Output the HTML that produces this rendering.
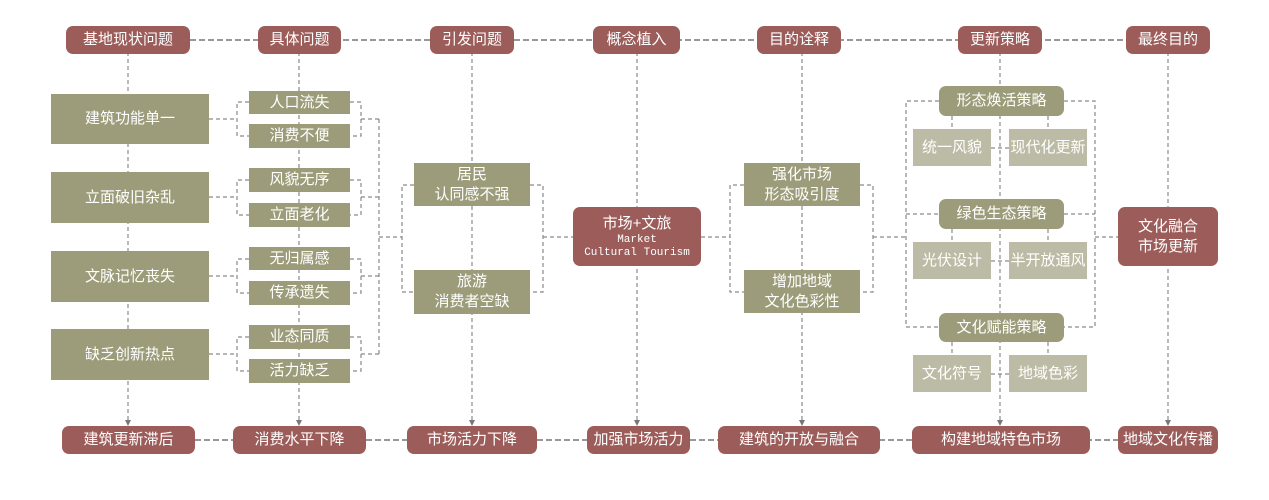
<!DOCTYPE html>
<html><head><meta charset="utf-8"><style>
html,body{margin:0;padding:0;background:#fff;}
#c{position:relative;width:1269px;height:500px;overflow:hidden;font-family:"Liberation Sans","Noto Sans CJK SC",sans-serif;}
.b{position:absolute;display:flex;align-items:center;justify-content:center;text-align:center;color:#fff;font-size:15px;line-height:20px;box-sizing:border-box;}
.r{background:#9c5d5a;border-radius:7px;}
.o{background:#9c9c7a;}
.os{background:#9c9c7a;border-radius:7px;}
.l{background:#bcbca6;}
svg{position:absolute;left:0;top:0;}
</style></head><body><div id="c">
<svg width="1269" height="500"><g stroke="#8a8a8a" stroke-width="1.2" fill="none" stroke-dasharray="4,3">
<line x1="190" y1="40" x2="1126" y2="40" stroke-dasharray="6,3" stroke-width="1.6" stroke="#777"/>
<line x1="195" y1="440" x2="1118" y2="440" stroke-dasharray="6,3" stroke-width="1.6" stroke="#777"/>
<line x1="128" y1="52" x2="128" y2="424"/>
<line x1="299" y1="52" x2="299" y2="424"/>
<line x1="472" y1="52" x2="472" y2="424"/>
<line x1="637" y1="52" x2="637" y2="424"/>
<line x1="802" y1="52" x2="802" y2="424"/>
<line x1="1000" y1="52" x2="1000" y2="424"/>
<line x1="1168" y1="52" x2="1168" y2="424"/>
<path d="M209 119 H237 M249 102 H237 V136 H249"/>
<path d="M209 197 H237 M249 180 H237 V215 H249"/>
<path d="M209 276 H237 M249 259 H237 V293 H249"/>
<path d="M209 354 H237 M249 337 H237 V371 H249"/>
<path d="M350 102 H361 V136 H350 M361 119 H379"/>
<path d="M350 180 H361 V215 H350 M361 197 H379"/>
<path d="M350 259 H361 V293 H350 M361 276 H379"/>
<path d="M350 337 H361 V371 H350 M361 354 H379"/>
<path d="M379 119 V354 M379 237 H402"/>
<path d="M414 185 H402 V292 H414 M530 185 H543 V292 H530 M543 237 H573"/>
<path d="M701 237 H730 M744 185 H730 V292 H744 M860 185 H873 V292 H860 M873 237 H906"/>
<path d="M939 101 H906 V327 H939 M1064 101 H1095 V327 H1064 M906 214 H939 M1064 214 H1095 M1095 237 H1118"/>
<path d="M952 116 V129 M1048 116 V129 M991 148 H1009"/>
<path d="M952 229 V242 M1048 229 V242 M991 261 H1009"/>
<path d="M952 342 V355 M1048 342 V355 M991 374 H1009"/>
</g>
<g fill="#777"><path d="M125 420 L131 420 L128 426Z"/><path d="M296 420 L302 420 L299 426Z"/><path d="M469 420 L475 420 L472 426Z"/><path d="M634 420 L640 420 L637 426Z"/><path d="M799 420 L805 420 L802 426Z"/><path d="M997 420 L1003 420 L1000 426Z"/><path d="M1165 420 L1171 420 L1168 426Z"/></g>
</svg>
<div class="b r" style="left:66px;top:26px;width:124px;height:28px">基地现状问题</div>
<div class="b r" style="left:258px;top:26px;width:83px;height:28px">具体问题</div>
<div class="b r" style="left:430px;top:26px;width:84px;height:28px">引发问题</div>
<div class="b r" style="left:593px;top:26px;width:87px;height:28px">概念植入</div>
<div class="b r" style="left:757px;top:26px;width:84px;height:28px">目的诠释</div>
<div class="b r" style="left:958px;top:26px;width:84px;height:28px">更新策略</div>
<div class="b r" style="left:1126px;top:26px;width:84px;height:28px">最终目的</div>

<div class="b o" style="left:51px;top:94px;width:158px;height:50px">建筑功能单一</div>
<div class="b o" style="left:51px;top:172px;width:158px;height:51px">立面破旧杂乱</div>
<div class="b o" style="left:51px;top:251px;width:158px;height:51px">文脉记忆丧失</div>
<div class="b o" style="left:51px;top:329px;width:158px;height:51px">缺乏创新热点</div>

<div class="b o" style="left:249px;top:91px;width:101px;height:23px">人口流失</div>
<div class="b o" style="left:249px;top:124px;width:101px;height:24px">消费不便</div>
<div class="b o" style="left:249px;top:168px;width:101px;height:24px">风貌无序</div>
<div class="b o" style="left:249px;top:203px;width:101px;height:24px">立面老化</div>
<div class="b o" style="left:249px;top:247px;width:101px;height:23px">无归属感</div>
<div class="b o" style="left:249px;top:281px;width:101px;height:24px">传承遗失</div>
<div class="b o" style="left:249px;top:325px;width:101px;height:24px">业态同质</div>
<div class="b o" style="left:249px;top:359px;width:101px;height:24px">活力缺乏</div>

<div class="b o" style="left:414px;top:163px;width:116px;height:43px">居民<br>认同感不强</div>
<div class="b o" style="left:414px;top:270px;width:116px;height:44px">旅游<br>消费者空缺</div>

<div class="b r" style="left:573px;top:207px;width:128px;height:59px;flex-direction:column"><div>市场+文旅</div><div style="font-family:'Liberation Mono',monospace;font-size:11px;line-height:13px">Market<br>Cultural Tourism</div></div>

<div class="b o" style="left:744px;top:163px;width:116px;height:43px">强化市场<br>形态吸引度</div>
<div class="b o" style="left:744px;top:270px;width:116px;height:43px">增加地域<br>文化色彩性</div>

<div class="b os" style="left:939px;top:86px;width:125px;height:30px">形态焕活策略</div>
<div class="b l" style="left:913px;top:129px;width:78px;height:37px">统一风貌</div>
<div class="b l" style="left:1009px;top:129px;width:78px;height:37px">现代化更新</div>
<div class="b os" style="left:939px;top:199px;width:125px;height:30px">绿色生态策略</div>
<div class="b l" style="left:913px;top:242px;width:78px;height:37px">光伏设计</div>
<div class="b l" style="left:1009px;top:242px;width:78px;height:37px">半开放通风</div>
<div class="b os" style="left:939px;top:313px;width:125px;height:29px">文化赋能策略</div>
<div class="b l" style="left:913px;top:355px;width:78px;height:37px">文化符号</div>
<div class="b l" style="left:1009px;top:355px;width:78px;height:37px">地域色彩</div>

<div class="b r" style="left:1118px;top:207px;width:100px;height:59px">文化融合<br>市场更新</div>

<div class="b r" style="left:62px;top:426px;width:133px;height:28px">建筑更新滞后</div>
<div class="b r" style="left:233px;top:426px;width:133px;height:28px">消费水平下降</div>
<div class="b r" style="left:407px;top:426px;width:130px;height:28px">市场活力下降</div>
<div class="b r" style="left:587px;top:426px;width:103px;height:28px">加强市场活力</div>
<div class="b r" style="left:718px;top:426px;width:162px;height:28px">建筑的开放与融合</div>
<div class="b r" style="left:912px;top:426px;width:178px;height:28px">构建地域特色市场</div>
<div class="b r" style="left:1118px;top:426px;width:100px;height:28px">地域文化传播</div>
</div></body></html>
